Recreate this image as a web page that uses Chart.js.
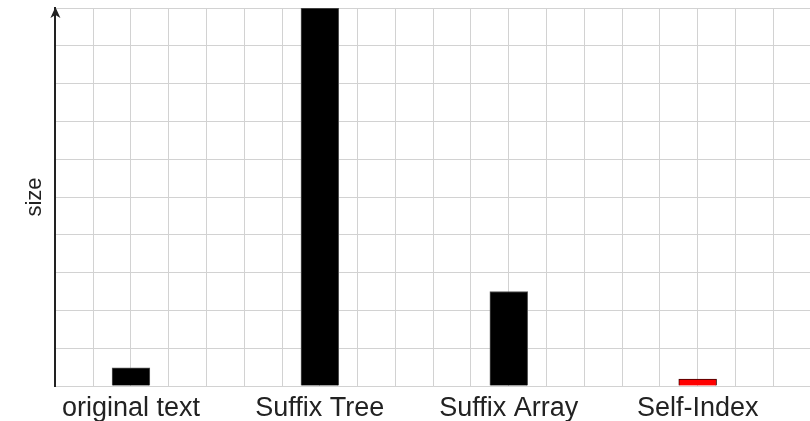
<!DOCTYPE html>
<html>
<head>
<meta charset="utf-8">
<script src="https://cdn.jsdelivr.net/npm/chart.js@4"></script>
<style>
  html, body { margin: 0; padding: 0; background: #fff; overflow: hidden; }
  /* a bit wider than the window: the x tick padding eats space on the right */
  #wrap { width: 820px; height: 421px; }
</style>
</head>
<body>
<div id="wrap"><canvas id="graph"></canvas></div>
<script>
const categories = ["original text", "Suffix Tree", "Suffix Array", "Self-Index"];
const sizes = [0.48, 10, 2.5, 0.18];
const barColors = ["#000000", "#000000", "#000000", "#ff0000"];
const barBorders = ["#555555", "#555555", "#555555", "#3a0000"];

// arrow head on top of the y axis line
const axisArrow = {
  id: "axisArrow",
  afterDraw(chart) {
    const ctx = chart.ctx;
    const x = chart.scales.y.left + chart.scales.y.width;
    const top = chart.chartArea.top;
    ctx.save();
    ctx.fillStyle = "#222";
    ctx.beginPath();
    ctx.moveTo(x, top - 1);
    ctx.lineTo(x - 5, top + 10);
    ctx.lineTo(x, top + 7);
    ctx.lineTo(x + 5, top + 10);
    ctx.closePath();
    ctx.fill();
    ctx.restore();
  },
};

const graphRef = document.getElementById("graph");

const chart = new Chart(graphRef, {
  type: "bar",
  data: {
    datasets: [{
      label: "size",
      data: sizes.map((v, i) => ({ x: i, y: v })),
      backgroundColor: barColors,
      borderColor: barBorders,
      borderWidth: 1,
      borderSkipped: "bottom",
      barPercentage: 1,
      categoryPercentage: 1,
    }],
  },
  plugins: [axisArrow],
  options: {
    responsive: true,
    maintainAspectRatio: false,
    animation: false,
    layout: { padding: { top: 8, left: 22, right: 0, bottom: -10 } },
    plugins: { legend: { display: false }, tooltip: { enabled: false } },
    scales: {
      x: {
        type: "linear",
        min: -0.4,
        max: 3.6,
        offset: false,
        grid: { color: "#d2d2d2", lineWidth: 1, drawTicks: false, offset: false },
        border: { color: "#d2d2d2", width: 1 },
        ticks: {
          stepSize: 0.2,
          autoSkip: false,
          maxRotation: 0,
          padding: 9,
          color: "#222",
          font: { family: "'Liberation Sans', Arial, sans-serif", size: 27, lineHeight: 1 },
          callback: (v) => {
            const i = Math.round(v);
            return Math.abs(v - i) < 1e-6 && categories[i] ? categories[i] : "";
          },
        },
      },
      y: {
        min: 0,
        max: 10,
        grid: { color: "#d2d2d2", lineWidth: 1, drawTicks: false },
        border: { color: "#222", width: 2 },
        ticks: { stepSize: 1, display: false },
        title: {
          display: true,
          text: "size",
          color: "#222",
          padding: { top: 0, bottom: 7 },
          font: { family: "'Liberation Sans', Arial, sans-serif", size: 22 },
        },
      },
    },
  },
});
</script>
</body>
</html>
